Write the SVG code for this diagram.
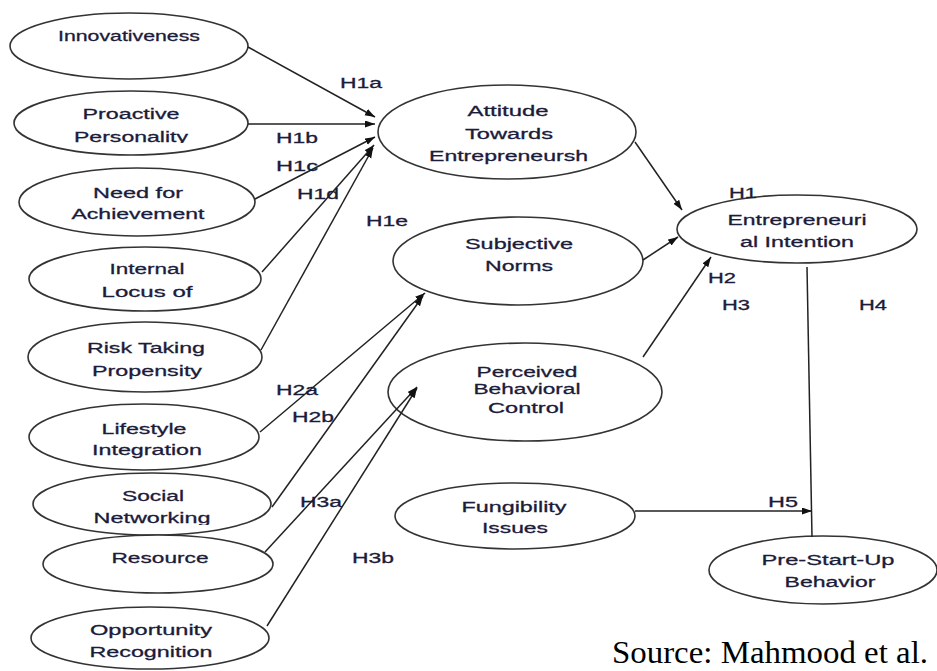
<svg xmlns="http://www.w3.org/2000/svg" width="937" height="671" viewBox="0 0 937 671">
<style>
.nd ellipse{fill:#fff;stroke:#333;stroke-width:1.6}
text{font-family:"Liberation Sans",Arial,sans-serif;font-size:15.5px;fill:#1b1b3a;stroke:#1b1b3a;stroke-width:0.3}
.nd text{text-anchor:middle}
.lbl text{text-anchor:start}
.cn line{stroke:#222;stroke-width:1.5}
.src{font-family:"Liberation Serif","Times New Roman",serif;font-size:31px;fill:#000;stroke:none}
</style>
<defs>
<marker id="ah" markerUnits="userSpaceOnUse" markerWidth="11" markerHeight="8" refX="10" refY="3.5" orient="auto">
<path d="M0,0 L10,3.5 L0,7 z" fill="#111"/>
</marker>
<clipPath id="clipP"><rect x="0" y="0" width="937" height="143"/></clipPath>
<clipPath id="clipN"><rect x="0" y="0" width="937" height="525"/></clipPath>
</defs>
<rect width="937" height="671" fill="#fff"/>
<g id="n1" class="nd"><ellipse cx="129" cy="46" rx="119" ry="33"/><text x="129" y="41" textLength="142" lengthAdjust="spacingAndGlyphs">Innovativeness</text></g>
<g id="n2" class="nd"><ellipse cx="131" cy="123" rx="117" ry="32"/><text x="131" y="119" textLength="97" lengthAdjust="spacingAndGlyphs">Proactive</text><text x="131" y="141.5" textLength="114" lengthAdjust="spacingAndGlyphs" clip-path="url(#clipP)">Personality</text></g>
<g id="n3" class="nd"><ellipse cx="137" cy="202" rx="118" ry="34"/><text x="138" y="197.5" textLength="90" lengthAdjust="spacingAndGlyphs">Need for</text><text x="138" y="219" textLength="133" lengthAdjust="spacingAndGlyphs">Achievement</text></g>
<g id="n4" class="nd"><ellipse cx="145" cy="279" rx="116" ry="32"/><text x="147" y="274" textLength="75" lengthAdjust="spacingAndGlyphs">Internal</text><text x="147" y="297" textLength="91" lengthAdjust="spacingAndGlyphs">Locus of</text></g>
<g id="n5" class="nd"><ellipse cx="145" cy="357" rx="117" ry="35"/><text x="146" y="352.5" textLength="118" lengthAdjust="spacingAndGlyphs">Risk Taking</text><text x="147" y="375.5" textLength="110" lengthAdjust="spacingAndGlyphs">Propensity</text></g>
<g id="n6" class="nd"><ellipse cx="144" cy="437" rx="115" ry="33"/><text x="144" y="434" textLength="85" lengthAdjust="spacingAndGlyphs">Lifestyle</text><text x="147" y="455" textLength="110" lengthAdjust="spacingAndGlyphs">Integration</text></g>
<g id="n7" class="nd"><ellipse cx="152" cy="504" rx="119" ry="31"/><text x="153" y="500.5" textLength="62" lengthAdjust="spacingAndGlyphs">Social</text><text x="152" y="523" textLength="117" lengthAdjust="spacingAndGlyphs" clip-path="url(#clipN)">Networking</text></g>
<g id="n8" class="nd"><ellipse cx="158" cy="564" rx="115" ry="29"/><text x="160" y="563" textLength="97" lengthAdjust="spacingAndGlyphs">Resource</text></g>
<g id="n9" class="nd"><ellipse cx="150" cy="638" rx="119" ry="31"/><text x="151" y="635" textLength="122" lengthAdjust="spacingAndGlyphs">Opportunity</text><text x="151" y="657" textLength="123" lengthAdjust="spacingAndGlyphs">Recognition</text></g>
<g id="n10" class="nd"><ellipse cx="507" cy="132" rx="129" ry="47"/><text x="508" y="115.5" textLength="81" lengthAdjust="spacingAndGlyphs">Attitude</text><text x="509" y="138.5" textLength="88" lengthAdjust="spacingAndGlyphs">Towards</text><text x="508.5" y="160.5" textLength="159" lengthAdjust="spacingAndGlyphs">Entrepreneursh</text></g>
<g id="n11" class="nd"><ellipse cx="518" cy="261" rx="125" ry="44"/><text x="519" y="248.5" textLength="108" lengthAdjust="spacingAndGlyphs">Subjective</text><text x="519" y="270.5" textLength="68" lengthAdjust="spacingAndGlyphs">Norms</text></g>
<g id="n12" class="nd"><ellipse cx="525" cy="392" rx="137" ry="49"/><text x="527" y="376.5" textLength="101" lengthAdjust="spacingAndGlyphs">Perceived</text><text x="527" y="394" textLength="107" lengthAdjust="spacingAndGlyphs">Behavioral</text><text x="526" y="412.5" textLength="76" lengthAdjust="spacingAndGlyphs">Control</text></g>
<g id="n13" class="nd"><ellipse cx="797" cy="229" rx="120" ry="34"/><text x="797" y="225" textLength="139" lengthAdjust="spacingAndGlyphs">Entrepreneuri</text><text x="797" y="246.5" textLength="114" lengthAdjust="spacingAndGlyphs">al Intention</text></g>
<g id="n14" class="nd"><ellipse cx="515" cy="516" rx="120" ry="33"/><text x="514" y="512" textLength="105" lengthAdjust="spacingAndGlyphs">Fungibility</text><text x="515" y="533" textLength="66" lengthAdjust="spacingAndGlyphs">Issues</text></g>
<g id="n15" class="nd"><ellipse cx="823" cy="570" rx="114" ry="34"/><text x="828" y="565" textLength="133" lengthAdjust="spacingAndGlyphs">Pre-Start-Up</text><text x="830" y="587" textLength="91" lengthAdjust="spacingAndGlyphs">Behavior</text></g>
<g id="connectors" class="cn">
<line x1="248" y1="47" x2="375" y2="117" marker-end="url(#ah)"/>
<line x1="248" y1="124" x2="375" y2="124" marker-end="url(#ah)"/>
<line x1="255" y1="199" x2="375" y2="137" marker-end="url(#ah)"/>
<line x1="262" y1="272" x2="374" y2="145" marker-end="url(#ah)"/>
<line x1="261" y1="350" x2="373" y2="148" marker-end="url(#ah)"/>
<line x1="260" y1="432" x2="425" y2="293" marker-end="url(#ah)"/>
<line x1="272" y1="507" x2="423" y2="296" marker-end="url(#ah)"/>
<line x1="265" y1="552" x2="417" y2="387" marker-end="url(#ah)"/>
<line x1="267" y1="626" x2="417" y2="388" marker-end="url(#ah)"/>
<line x1="635" y1="142" x2="682" y2="210" marker-end="url(#ah)"/>
<line x1="643" y1="260" x2="678" y2="237" marker-end="url(#ah)"/>
<line x1="643" y1="357" x2="711" y2="257" marker-end="url(#ah)"/>
<line x1="807" y1="267" x2="812" y2="537"/>
<line x1="635" y1="511" x2="812" y2="511" marker-end="url(#ah)"/>
</g>
<g id="labels" class="lbl">
<text x="340" y="87.5" textLength="42" lengthAdjust="spacingAndGlyphs">H1a</text>
<text x="276" y="142.5" textLength="42" lengthAdjust="spacingAndGlyphs">H1b</text>
<text x="276" y="170.5" textLength="42" lengthAdjust="spacingAndGlyphs">H1c</text>
<text x="297" y="198.5" textLength="42" lengthAdjust="spacingAndGlyphs">H1d</text>
<text x="366" y="226" textLength="42" lengthAdjust="spacingAndGlyphs">H1e</text>
<text x="276" y="395" textLength="42" lengthAdjust="spacingAndGlyphs">H2a</text>
<text x="292" y="422" textLength="42" lengthAdjust="spacingAndGlyphs">H2b</text>
<text x="300" y="506.5" textLength="42" lengthAdjust="spacingAndGlyphs">H3a</text>
<text x="352" y="562.5" textLength="42" lengthAdjust="spacingAndGlyphs">H3b</text>
<text x="729" y="198" textLength="28" lengthAdjust="spacingAndGlyphs">H1</text>
<text x="708" y="282.5" textLength="28" lengthAdjust="spacingAndGlyphs">H2</text>
<text x="722" y="310" textLength="28" lengthAdjust="spacingAndGlyphs">H3</text>
<text x="859" y="310" textLength="28" lengthAdjust="spacingAndGlyphs">H4</text>
<text x="768" y="507" textLength="30" lengthAdjust="spacingAndGlyphs">H5</text>
</g>
<text class="src" x="612" y="663" textLength="316" lengthAdjust="spacingAndGlyphs">Source: Mahmood et al.</text>
</svg>
